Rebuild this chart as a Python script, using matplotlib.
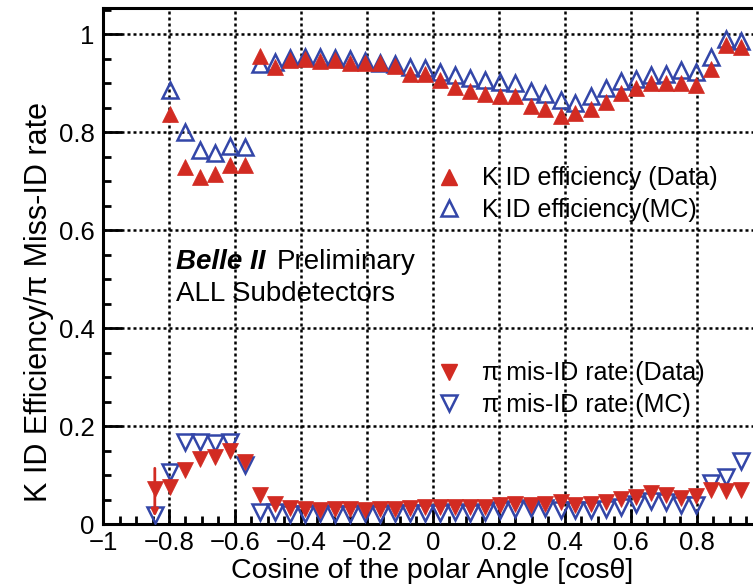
import numpy as np
import matplotlib
matplotlib.use("Agg")
import matplotlib.pyplot as plt
from matplotlib.ticker import MultipleLocator, FuncFormatter
from matplotlib.lines import Line2D

plt.rcParams['font.family'] = ['Liberation Sans', 'DejaVu Sans']

# bin centres in cos(theta)
cos_bins = [-0.843, -0.798, -0.752, -0.707, -0.661, -0.616, -0.570, -0.524, -0.479, -0.433,
            -0.388, -0.342, -0.297, -0.251, -0.206, -0.160, -0.114, -0.069, -0.023, 0.022,
            0.068, 0.113, 0.159, 0.204, 0.250, 0.296, 0.341, 0.387, 0.432, 0.478,
            0.523, 0.569, 0.615, 0.660, 0.706, 0.751, 0.797, 0.842, 0.888, 0.933]

# K efficiency, no point in the first bin
eff_data = [0.837, 0.730, 0.709, 0.716, 0.733, 0.733, 0.956, 0.934, 0.948,
            0.949, 0.946, 0.948, 0.942, 0.941, 0.941, 0.935, 0.920, 0.920, 0.907,
            0.893, 0.885, 0.878, 0.875, 0.875, 0.854, 0.847, 0.833, 0.840, 0.847,
            0.862, 0.880, 0.890, 0.900, 0.901, 0.901, 0.897, 0.929, 0.978, 0.975]
eff_mc = [0.886, 0.800, 0.764, 0.757, 0.772, 0.771, 0.940, 0.944, 0.951,
          0.953, 0.953, 0.951, 0.949, 0.946, 0.942, 0.939, 0.934, 0.931, 0.924,
          0.917, 0.912, 0.907, 0.902, 0.900, 0.884, 0.878, 0.866, 0.860, 0.874,
          0.890, 0.905, 0.910, 0.917, 0.920, 0.927, 0.924, 0.954, 0.990, 0.987]

# pion mis-ID rate, all bins
mis_data = [0.073, 0.077, 0.111, 0.133, 0.137, 0.150, 0.128, 0.060, 0.041, 0.034,
            0.031, 0.030, 0.032, 0.032, 0.030, 0.032, 0.032, 0.033, 0.035, 0.036,
            0.035, 0.036, 0.036, 0.039, 0.041, 0.039, 0.041, 0.046, 0.039, 0.041,
            0.046, 0.051, 0.056, 0.063, 0.060, 0.053, 0.058, 0.070, 0.067, 0.071]
mis_mc = [0.019, 0.107, 0.169, 0.169, 0.165, 0.169, 0.121, 0.026, 0.026, 0.022,
          0.022, 0.023, 0.021, 0.022, 0.023, 0.022, 0.023, 0.024, 0.023, 0.024,
          0.025, 0.024, 0.026, 0.029, 0.031, 0.033, 0.033, 0.029, 0.029, 0.029,
          0.031, 0.035, 0.041, 0.048, 0.046, 0.039, 0.039, 0.085, 0.096, 0.130]

# first data bin of mis-ID drawn as an arrow (limit)
arrow_top = 0.12
arrow_bottom = 0.01

red = "#d22b22"
blue = "#3346a8"
ms = 11.5

fig = plt.figure(figsize=(7.53, 5.87), dpi=100, facecolor="white")
ax = fig.add_axes([0.1368, 0.1068, 0.8632, 0.8796])

x = np.array(cos_bins)
ax.plot(x[1:], eff_mc, ls="none", marker="^", ms=ms, mfc="none", mec=blue, mew=1.8, zorder=3)
ax.plot(x[1:], eff_data, ls="none", marker="^", ms=ms, mfc=red, mec=red, mew=0.5, zorder=4)
ax.plot(x, mis_mc, ls="none", marker="v", ms=ms, mfc="none", mec=blue, mew=1.8, zorder=3)
ax.plot(x, mis_data, ls="none", marker="v", ms=ms, mfc=red, mec=red, mew=0.5, zorder=4)
ax.annotate("", xy=(x[0], arrow_bottom), xytext=(x[0], arrow_top),
            arrowprops=dict(arrowstyle="-|>", color=red, lw=2.0, mutation_scale=10), zorder=5)

ax.set_xlim(-1, 0.97)
ax.set_ylim(0, 1.054)
ax.xaxis.set_major_locator(MultipleLocator(0.2))
ax.xaxis.set_minor_locator(MultipleLocator(0.05))
ax.yaxis.set_major_locator(MultipleLocator(0.2))
ax.yaxis.set_minor_locator(MultipleLocator(0.05))
fmt = FuncFormatter(lambda v, p: f"{v:g}".replace("-", "\u2212") if abs(v) > 1e-9 else "0")
ax.xaxis.set_major_formatter(fmt)
ax.yaxis.set_major_formatter(fmt)
ax.tick_params(axis="both", which="both", direction="in", width=2, labelsize=18.5)
ax.tick_params(axis="x", which="major", length=11, pad=5)
ax.tick_params(axis="y", which="major", length=14, pad=6)
ax.tick_params(axis="both", which="minor", length=6)
ax.tick_params(top=False, right=False)
for s in ["left", "bottom", "top"]:
    ax.spines[s].set_linewidth(2.2)
ax.spines["right"].set_visible(False)
ax.grid(True, which="major", color="black", ls=(0, (1.2, 1.2)), lw=1.8)
ax.set_axisbelow(True)

ax.set_xlabel("Cosine of the polar Angle [cos\u03b8]", fontsize=20.5)
ax.set_ylabel("K ID Efficiency/\u03c0 Miss-ID rate", fontsize=22)
ax.xaxis.set_label_coords(0.507, -0.066)
ax.yaxis.set_label_coords(-0.076, 0.43)

ax.text(0.113, 0.495, "Belle II", transform=ax.transAxes, fontsize=20,
        fontweight="bold", fontstyle="italic", va="baseline")
ax.text(0.268, 0.495, "Preliminary", transform=ax.transAxes, fontsize=20, va="baseline")
ax.text(0.113, 0.432, "ALL Subdetectors", transform=ax.transAxes, fontsize=20, va="baseline")

h_eff = [Line2D([], [], ls="none", marker="^", ms=ms, mfc=red, mec=red),
         Line2D([], [], ls="none", marker="^", ms=ms, mfc="none", mec=blue, mew=1.8)]
h_mis = [Line2D([], [], ls="none", marker="v", ms=ms, mfc=red, mec=red),
         Line2D([], [], ls="none", marker="v", ms=ms, mfc="none", mec=blue, mew=1.8)]
leg_kw = dict(frameon=False, fontsize=18, handlelength=1.0, handletextpad=0.85,
              labelspacing=0.3, borderpad=0, borderaxespad=0, loc="center left")
leg1 = ax.legend(h_eff, ["K ID efficiency (Data)", "K ID efficiency(MC)"],
                 bbox_to_anchor=(436 / 753, 1 - 194 / 587), bbox_transform=fig.transFigure, **leg_kw)
ax.add_artist(leg1)
ax.legend(h_mis, ["\u03c0 mis-ID rate (Data)", "\u03c0 mis-ID rate (MC)"],
          bbox_to_anchor=(436 / 753, 1 - 389 / 587), bbox_transform=fig.transFigure, **leg_kw)

fig.savefig("out.png", dpi=100, facecolor="white")
